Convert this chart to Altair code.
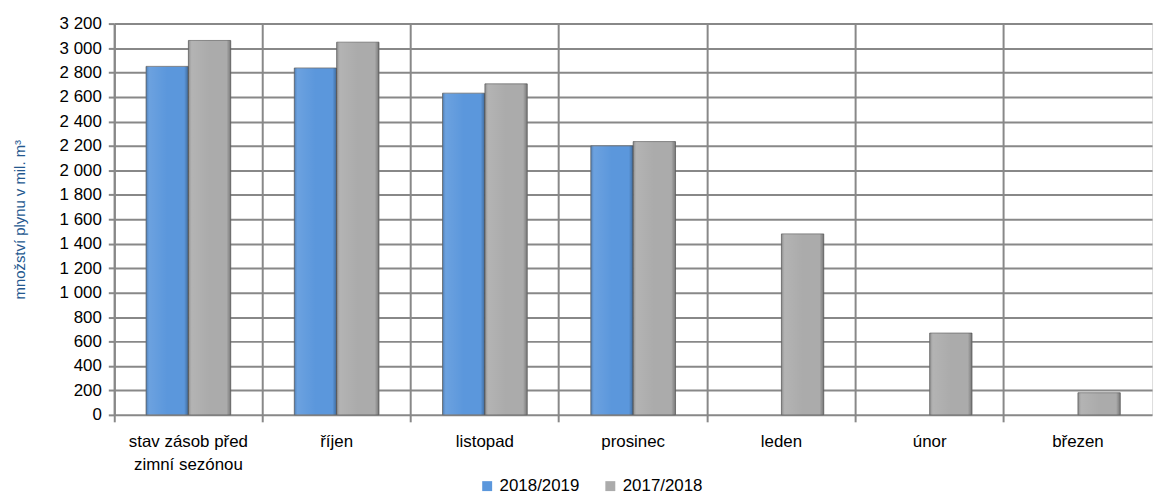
import altair as alt
import pandas as pd

categories = ["stav zásob před zimní sezónou", "říjen", "listopad", "prosinec", "leden", "únor", "březen"]
series = ["2018/2019", "2017/2018"]
values_2018_19 = [2850, 2837, 2631, 2200, None, None, None]
values_2017_18 = [3062, 3048, 2707, 2235, 1480, 669, 181]
y_ticks = list(range(0, 3201, 200))
colors = ["#5b97dc", "#ababab"]

rows = []
for c, a, b in zip(categories, values_2018_19, values_2017_18):
    if a is not None:
        rows.append({"kategorie": c, "sezóna": series[0], "hodnota": a})
    if b is not None:
        rows.append({"kategorie": c, "sezóna": series[1], "hodnota": b})
df = pd.DataFrame(rows)

FONT = "Liberation Sans"

x_enc = alt.X(
    "kategorie:N",
    sort=categories,
    scale=alt.Scale(domain=categories, paddingInner=0, paddingOuter=0),
    axis=alt.Axis(
        title=None,
        bandPosition=0,
        grid=True,
        gridColor="#888888",
        gridWidth=2,
        ticks=True,
        tickSize=7,
        tickColor="#888888",
        tickWidth=2,
        domain=False,
        labelAngle=0,
        labelFont=FONT,
        labelFontSize=17,
        labelColor="#000000",
        labelPadding=12,
        labelLineHeight=23,
        labelExpr="datum.label == 'stav zásob před zimní sezónou' ? ['stav zásob před', 'zimní sezónou'] : datum.label",
    ),
)
xoff_enc = alt.XOffset(
    "sezóna:N",
    sort=series,
    scale=alt.Scale(domain=series, paddingInner=0, paddingOuter=0.75),
)
y_enc = alt.Y(
    "hodnota:Q",
    scale=alt.Scale(domain=[0, 3200], nice=False),
    axis=alt.Axis(
        values=y_ticks,
        title="množství plynu v mil. m³",
        titleFont=FONT,
        titleFontSize=15,
        titleFontWeight="normal",
        titleColor="#24588f",
        titleAngle=270,
        titleX=-95,
        titleY=197,
        titleAlign="center",
        titleBaseline="middle",
        grid=True,
        gridColor="#888888",
        gridWidth=2,
        domain=True,
        domainColor="#888888",
        domainWidth=2,
        ticks=True,
        tickSize=6,
        tickColor="#888888",
        tickWidth=2,
        labelFont=FONT,
        labelFontSize=17,
        labelColor="#000000",
        labelPadding=7,
        labelExpr="replace(format(datum.value, ','), ',', ' ')",
    ),
)

bars = alt.Chart(df).mark_bar(stroke="#6e6e6e", strokeWidth=0.8).encode(
    x=x_enc,
    xOffset=xoff_enc,
    y=y_enc,
    color=alt.Color(
        "sezóna:N",
        sort=series,
        scale=alt.Scale(domain=series, range=colors),
        legend=alt.Legend(
            title=None,
            orient="none",
            legendX=367,
            legendY=457,
            direction="horizontal",
            symbolType="square",
            symbolSize=100,
            symbolStrokeWidth=0,
            labelFont=FONT,
            labelFontSize=17,
            labelColor="#000000",
            labelOffset=4,
            columnPadding=22,
        ),
    ),
)

shade = alt.Gradient(
    gradient="linear",
    x1=0, y1=0, x2=1, y2=0,
    stops=[
        alt.GradientStop(offset=0, color="rgba(0,0,0,0.22)"),
        alt.GradientStop(offset=0.08, color="rgba(255,255,255,0.10)"),
        alt.GradientStop(offset=0.5, color="rgba(255,255,255,0.0)"),
        alt.GradientStop(offset=0.9, color="rgba(0,0,0,0.0)"),
        alt.GradientStop(offset=1, color="rgba(0,0,0,0.30)"),
    ],
)

overlay = alt.Chart(df).mark_bar(fill=shade, strokeWidth=0).encode(
    x=x_enc,
    xOffset=xoff_enc,
    y=y_enc,
)

chart = alt.layer(bars, overlay).properties(
    width=1045,
    height=394,
    padding={"left": 107, "top": 14, "right": 8, "bottom": 80},
    autosize=alt.AutoSizeParams(type="none"),
).configure_view(stroke=None).configure(background="#ffffff")

chart.save("out.html", embed_options={"renderer": "svg", "actions": False})
